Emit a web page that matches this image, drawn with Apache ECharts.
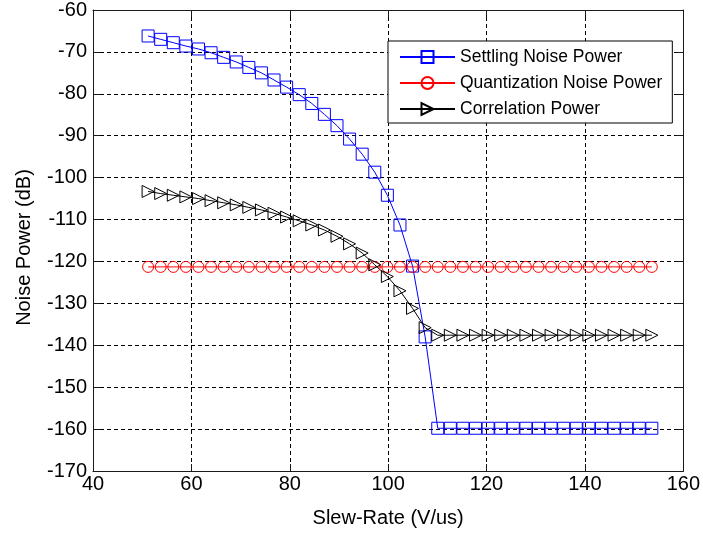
<!DOCTYPE html>
<html>
<head>
<meta charset="utf-8">
<script src="https://cdn.jsdelivr.net/npm/echarts/dist/echarts.min.js"></script>
<style>
  html, body { margin: 0; padding: 0; background: #fff; }
  #chart { width: 703px; height: 536px; }
</style>
</head>
<body>
<div id="chart"></div>
<script>
// Slew-rate sweep (V/us)
const slewRate = [51.2, 53.76, 56.32, 58.88, 61.44, 64, 66.56, 69.12, 71.68, 74.24,
  76.8, 79.36, 81.92, 84.48, 87.04, 89.6, 92.16, 94.72, 97.28, 99.84,
  102.4, 104.96, 107.52, 110.08, 112.64, 115.2, 117.76, 120.32, 122.88, 125.44,
  128, 130.56, 133.12, 135.68, 138.24, 140.8, 143.36, 145.92, 148.48, 151.04, 153.6];

// Noise powers (dB)
const settlingNoise = [-66.2, -67.0, -67.8, -68.6, -69.3, -70.2, -71.3, -72.4, -73.7, -75.0,
  -76.7, -78.4, -80.2, -82.3, -84.9, -87.6, -90.8, -94.4, -98.7, -104.2,
  -111.3, -121.1, -138.0, -159.8, -159.8, -159.8, -159.8, -159.8, -159.8, -159.8,
  -159.8, -159.8, -159.8, -159.8, -159.8, -159.8, -159.8, -159.8, -159.8, -159.8, -159.8];

const quantizationNoise = [-121.3, -121.3, -121.3, -121.3, -121.3, -121.3, -121.3, -121.3, -121.3, -121.3,
  -121.3, -121.3, -121.3, -121.3, -121.3, -121.3, -121.3, -121.3, -121.3, -121.3,
  -121.3, -121.3, -121.3, -121.3, -121.3, -121.3, -121.3, -121.3, -121.3, -121.3,
  -121.3, -121.3, -121.3, -121.3, -121.3, -121.3, -121.3, -121.3, -121.3, -121.3, -121.3];

const correlationPower = [-103.3, -103.8, -104.2, -104.6, -105.0, -105.5, -106.0, -106.5, -107.1, -107.7,
  -108.5, -109.4, -110.3, -111.3, -112.5, -114.0, -115.8, -118.0, -120.8, -123.6,
  -127.0, -131.2, -135.8, -137.6, -137.6, -137.6, -137.6, -137.6, -137.6, -137.6,
  -137.6, -137.6, -137.6, -137.6, -137.6, -137.6, -137.6, -137.6, -137.6, -137.6, -137.6];

const seriesNames = ['Settling Noise Power', 'Quantization Noise Power', 'Correlation Power'];
const xTitle = 'Slew-Rate (V/us)';
const yTitle = 'Noise Power (dB)';

const FONT = '"Liberation Sans", Arial, Helvetica, sans-serif';
const AXIS_COLOR = '#1a1a1a';

function pairs(ys) {
  return slewRate.map((x, i) => [x, ys[i]]);
}

const gridDash = { show: true, lineStyle: { color: '#000', width: 1, type: [4, 3] } };
const tickInside = { show: true, inside: true, length: 7, lineStyle: { color: AXIS_COLOR, width: 1 } };
const axisLine = { show: true, onZero: false, lineStyle: { color: AXIS_COLOR, width: 1 } };

function lineSeries(name, ys, color, symbol, size, rotate) {
  return {
    name: name,
    type: 'line',
    data: pairs(ys),
    xAxisIndex: 0,
    yAxisIndex: 0,
    symbol: symbol,
    symbolSize: size,
    symbolRotate: rotate || 0,
    showAllSymbol: true,
    lineStyle: { color: color, width: 1 },
    itemStyle: { color: 'rgba(0,0,0,0)', borderColor: color, borderWidth: 1 },
    emphasis: { disabled: true },
    animation: false,
    z: 3
  };
}

const chart = echarts.init(document.getElementById('chart'), null, { renderer: 'canvas' });
chart.setOption({
  backgroundColor: '#fff',
  animation: false,
  grid: { left: 93, right: 17, top: 7, bottom: 65, containLabel: false },
  xAxis: [
    {
      type: 'value', min: 40, max: 160, interval: 20, position: 'bottom',
      name: xTitle, nameLocation: 'middle', nameGap: 37,
      nameTextStyle: { fontFamily: FONT, fontSize: 20, color: '#000' },
      axisLine: axisLine, axisTick: tickInside,
      axisLabel: { fontFamily: FONT, fontSize: 20, color: '#000', margin: 3 },
      splitLine: gridDash
    },
    {
      type: 'value', min: 40, max: 160, interval: 20, position: 'top',
      axisLine: axisLine, axisTick: tickInside,
      axisLabel: { show: false }, splitLine: { show: false }
    }
  ],
  yAxis: [
    {
      type: 'value', min: -170, max: -60, interval: 10, position: 'left',
      name: yTitle, nameLocation: 'middle', nameGap: 59,
      nameTextStyle: { fontFamily: FONT, fontSize: 20, color: '#000', padding: [0, 14, 0, 0] },
      axisLine: axisLine, axisTick: tickInside,
      axisLabel: { fontFamily: FONT, fontSize: 20, color: '#000', margin: 6 },
      splitLine: gridDash
    },
    {
      type: 'value', min: -170, max: -60, interval: 10, position: 'right',
      axisLine: axisLine, axisTick: tickInside,
      axisLabel: { show: false }, splitLine: { show: false }
    }
  ],
  legend: {
    orient: 'vertical',
    left: 388, top: 41,
    padding: [7, 10, 5, 11],
    itemWidth: 55, itemHeight: 15, itemGap: 8,
    backgroundColor: '#fff',
    borderColor: '#000', borderWidth: 1, borderRadius: 0,
    textStyle: { fontFamily: FONT, fontSize: 17.5, color: '#000' },
    selectedMode: false,
    data: seriesNames
  },
  series: [
    lineSeries(seriesNames[0], settlingNoise, '#0000ff', 'rect', 12, 0),
    lineSeries(seriesNames[1], quantizationNoise, '#ff0000', 'circle', 11, 0),
    lineSeries(seriesNames[2], correlationPower, '#000000', 'triangle', 12, -90)
  ]
});
</script>
</body>
</html>
